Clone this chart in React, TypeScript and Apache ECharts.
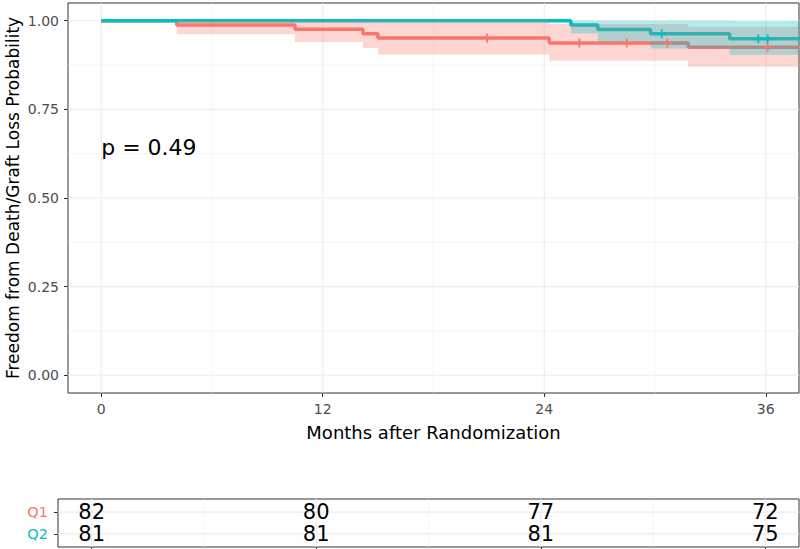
import React, { useEffect, useRef } from "react";
import * as echarts from "echarts";

const FONT = "DejaVu Sans";
const Q1_COLOR = "#F8766D";
const Q2_COLOR = "#00BFC4";

const groups = ["Q1", "Q2"];
const followUpEnd = 38;

// Kaplan-Meier steps
const q1Time = [0, 4.09, 10.5, 14.18, 14.99, 24.27, 31.8];
const q1Surv = [1, 0.988, 0.976, 0.963, 0.951, 0.9375, 0.925];
const q1Lower = [1, 0.962, 0.94, 0.923, 0.905, 0.887, 0.87];
const q1Upper = [1, 1, 1, 1, 1, 0.991, 0.983];
const q1CensorTimes = [20.9, 25.9, 28.47, 30.67, 36.1];

const q2Time = [0, 25.44, 26.9, 29.76, 34.04];
const q2Surv = [1, 0.988, 0.975, 0.963, 0.949];
const q2Lower = [1, 0.964, 0.942, 0.922, 0.904];
const q2Upper = [1, 1, 1, 1, 0.999];
const q2CensorTimes = [30.36, 35.6, 36.1];

const pValueText = "p = 0.49";
const pValuePos = [0, 0.643];

const xMajorTicks = [0, 12, 24, 36];
const xMinorTicks = [6, 18, 30];
const yMajorTicks = [0, 0.25, 0.5, 0.75, 1];
const yMinorTicks = [0.125, 0.375, 0.625, 0.875];

const riskTimes = [0, 12, 24, 36];
const q1AtRisk = [82, 80, 77, 72];
const q2AtRisk = [81, 81, 81, 75];
const riskRows = [1, 0]; // Q1 on top, Q2 below

function rgba(hex: string, a: number) {
  const n = parseInt(hex.slice(1), 16);
  return `rgba(${(n >> 16) & 255},${(n >> 8) & 255},${n & 255},${a})`;
}

function stepData(time: number[], surv: number[]) {
  const d = time.map((t, i) => [t, surv[i]]);
  d.push([followUpEnd, surv[surv.length - 1]]);
  return d;
}

function bandData(time: number[], lower: number[], upper: number[]) {
  return time.map((t, i) => [t, i < time.length - 1 ? time[i + 1] : followUpEnd, lower[i], upper[i]]);
}

function survAt(time: number[], surv: number[], t: number) {
  let s = surv[0];
  for (let i = 0; i < time.length; i++) if (time[i] <= t) s = surv[i];
  return s;
}

function gridItems(xMaj: number[], xMin: number[], yMaj: number[], yMin: number[]) {
  return [
    ...xMin.map((v) => [v, 0, 0]),
    ...yMin.map((v) => [v, 1, 0]),
    ...xMaj.map((v) => [v, 0, 1]),
    ...yMaj.map((v) => [v, 1, 1]),
  ];
}

const gridRender = (params: any, api: any) => {
  const v = api.value(0);
  const dir = api.value(1);
  const major = api.value(2);
  const cs = params.coordSys;
  let shape;
  if (dir === 0) {
    const x = api.coord([v, 0.5])[0];
    shape = { x1: x, y1: cs.y, x2: x, y2: cs.y + cs.height };
  } else {
    const y = api.coord([0, v])[1];
    shape = { x1: cs.x, y1: y, x2: cs.x + cs.width, y2: y };
  }
  return {
    type: "line",
    shape,
    silent: true,
    style: { stroke: "#EBEBEB", lineWidth: major ? 1.1 : 0.55 },
  };
};

function bandRender(color: string) {
  return (params: any, api: any) => {
    if (params.dataIndexInside !== 0) return null;
    const cs = params.coordSys;
    const n = params.dataInsideLength;
    const cx = (x: number) => Math.max(cs.x, Math.min(cs.x + cs.width, x));
    const top: number[][] = [];
    const bot: number[][] = [];
    for (let i = 0; i < n; i++) {
      const t0 = api.value(0, i);
      const t1 = api.value(1, i);
      const lo = api.value(2, i);
      const hi = api.value(3, i);
      const a = api.coord([t0, hi]);
      const b = api.coord([t1, hi]);
      const c = api.coord([t0, lo]);
      const d = api.coord([t1, lo]);
      top.push([cx(a[0]), a[1]], [cx(b[0]), b[1]]);
      bot.push([cx(c[0]), c[1]], [cx(d[0]), d[1]]);
    }
    return {
      type: "polygon",
      silent: true,
      shape: { points: top.concat(bot.reverse()) },
      style: { fill: rgba(color, 0.3) },
    };
  };
}

const PLUS = "path://M-1,-5L1,-5L1,-1L5,-1L5,1L1,1L1,5L-1,5L-1,1L-5,1L-5,-1L-1,-1Z";

export default function App() {
  const ref = useRef<HTMLDivElement>(null);
  useEffect(() => {
    const chart = echarts.init(ref.current!, null, { renderer: "svg" });
    const tickStyle = { color: "#333333", width: 1 };
    const option: any = {
      animation: false,
      backgroundColor: "#ffffff",
      textStyle: { fontFamily: FONT },
      grid: [
        {
          left: 68, top: 3, right: 1, height: 390,
          show: true, borderColor: "#333333", borderWidth: 1, backgroundColor: "#ffffff",
          containLabel: false, outerBoundsMode: "none",
        },
        {
          left: 58, top: 499, right: 1, height: 48,
          show: true, borderColor: "#333333", borderWidth: 1, backgroundColor: "#ffffff",
          containLabel: false, outerBoundsMode: "none",
        },
      ],
      xAxis: [
        {
          type: "value", gridIndex: 0, min: -1.8, max: 37.8,
          splitLine: { show: false },
          axisLine: { show: false, onZero: false },
          axisTick: { show: true, customValues: xMajorTicks, length: 4, lineStyle: tickStyle },
          axisLabel: { customValues: xMajorTicks, color: "#4D4D4D", fontSize: 14, fontFamily: FONT, margin: 9 },
          name: "Months after Randomization",
          nameLocation: "middle",
          nameGap: 30,
          nameMoveOverlap: false,
          nameTextStyle: { fontSize: 18, color: "#000000", fontFamily: FONT },
        },
        {
          type: "value", gridIndex: 1, min: -1.8, max: 37.8,
          splitLine: { show: false },
          axisLine: { show: false, onZero: false },
          axisTick: { show: true, customValues: riskTimes, length: 4, lineStyle: tickStyle },
          axisLabel: { show: false },
        },
      ],
      yAxis: [
        {
          type: "value", gridIndex: 0, min: -0.05, max: 1.05,
          splitLine: { show: false },
          axisLine: { show: false, onZero: false },
          axisTick: { show: true, customValues: yMajorTicks, length: 4, lineStyle: tickStyle },
          axisLabel: {
            customValues: yMajorTicks, color: "#4D4D4D", fontSize: 14, fontFamily: FONT, margin: 9,
            formatter: (v: number) => Number(v).toFixed(2),
          },
          name: "Freedom from Death/Graft Loss Probability",
          nameLocation: "middle",
          nameGap: 47,
          nameMoveOverlap: false,
          nameRotate: 90,
          nameTextStyle: { fontSize: 17, color: "#000000", fontFamily: FONT },
        },
        {
          type: "value", gridIndex: 1, min: -0.6, max: 1.6,
          splitLine: { show: false },
          axisLine: { show: false, onZero: false },
          axisTick: { show: true, customValues: riskRows, length: 4, lineStyle: tickStyle },
          axisLabel: {
            customValues: riskRows, margin: 10,
            formatter: (v: number) => {
              const g = groups[riskRows.indexOf(Math.round(v))];
              return `{${g}|${g}}`;
            },
            rich: {
              Q1: { color: Q1_COLOR, fontSize: 14.5, fontFamily: FONT },
              Q2: { color: Q2_COLOR, fontSize: 14.5, fontFamily: FONT },
            },
          },
        },
      ],
      series: [
        {
          type: "custom", xAxisIndex: 0, yAxisIndex: 0, z: 1, silent: true,
          data: gridItems(xMajorTicks, xMinorTicks, yMajorTicks, yMinorTicks),
          renderItem: gridRender,
        },
        {
          type: "custom", xAxisIndex: 1, yAxisIndex: 1, z: 1, silent: true,
          data: gridItems(riskTimes, xMinorTicks, riskRows, []),
          renderItem: gridRender,
        },
        {
          name: "Q1", type: "line", xAxisIndex: 0, yAxisIndex: 0, z: 2,
          step: "end", showSymbol: false, clip: true,
          lineStyle: { color: Q1_COLOR, width: 3.5 },
          itemStyle: { color: Q1_COLOR },
          data: stepData(q1Time, q1Surv),
        },
        {
          name: "Q2", type: "line", xAxisIndex: 0, yAxisIndex: 0, z: 2,
          step: "end", showSymbol: false, clip: true,
          lineStyle: { color: Q2_COLOR, width: 3.5 },
          itemStyle: { color: Q2_COLOR },
          data: stepData(q2Time, q2Surv),
        },
        {
          type: "custom", xAxisIndex: 0, yAxisIndex: 0, z: 3, silent: true,
          encode: { x: [0, 1], y: [2, 3] },
          data: bandData(q1Time, q1Lower, q1Upper),
          renderItem: bandRender(Q1_COLOR),
        },
        {
          type: "custom", xAxisIndex: 0, yAxisIndex: 0, z: 3, silent: true,
          encode: { x: [0, 1], y: [2, 3] },
          data: bandData(q2Time, q2Lower, q2Upper),
          renderItem: bandRender(Q2_COLOR),
        },
        {
          type: "scatter", xAxisIndex: 0, yAxisIndex: 0, z: 4, silent: true,
          symbol: PLUS, symbolSize: 9,
          itemStyle: { color: Q1_COLOR, opacity: 1 },
          data: q1CensorTimes.map((t) => [t, survAt(q1Time, q1Surv, t)]),
        },
        {
          type: "scatter", xAxisIndex: 0, yAxisIndex: 0, z: 4, silent: true,
          symbol: PLUS, symbolSize: 9,
          itemStyle: { color: Q2_COLOR, opacity: 1 },
          data: q2CensorTimes.map((t) => [t, survAt(q2Time, q2Surv, t)]),
        },
        {
          type: "custom", xAxisIndex: 0, yAxisIndex: 0, z: 5, silent: true,
          data: [pValuePos],
          renderItem: (params: any, api: any) => {
            const p = api.coord([api.value(0), api.value(1)]);
            return {
              type: "text", x: p[0], y: p[1],
              style: { text: pValueText, fontSize: 22, fontFamily: FONT, fill: "#000000", align: "left", verticalAlign: "middle" },
            };
          },
        },
        {
          type: "custom", xAxisIndex: 1, yAxisIndex: 1, z: 5, silent: true,
          data: [
            ...riskTimes.map((t, i) => [t, riskRows[0], q1AtRisk[i]]),
            ...riskTimes.map((t, i) => [t, riskRows[1], q2AtRisk[i]]),
          ],
          renderItem: (params: any, api: any) => {
            const p = api.coord([api.value(0), api.value(1)]);
            return {
              type: "text", x: p[0], y: p[1],
              style: { text: String(api.value(2)), fontSize: 21, fontFamily: FONT, fill: "#000000", align: "center", verticalAlign: "middle" },
            };
          },
        },
      ],
    };
    chart.setOption(option);
    return () => chart.dispose();
  }, []);
  return (
    <div
      ref={ref}
      style={{ position: "fixed", left: 0, top: 0, width: 800, height: 549, background: "#ffffff" }}
    />
  );
}
